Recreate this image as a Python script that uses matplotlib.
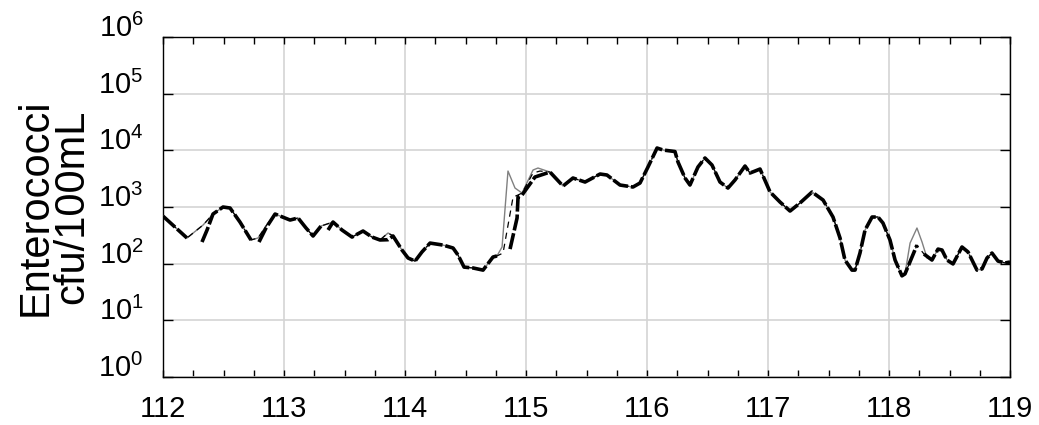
import numpy as np
import matplotlib
matplotlib.use("Agg")
import matplotlib.pyplot as plt
from matplotlib.ticker import LogLocator, MultipleLocator, NullFormatter

# observed series (thin gray), day of year vs cfu/100mL
obs_x = [112.000, 112.198, 112.331, 112.413, 112.496, 112.554, 112.636, 112.727,
         112.785, 112.851, 112.926, 113.050, 113.116, 113.182, 113.240, 113.306,
         113.405, 113.479, 113.562, 113.653, 113.727, 113.793, 113.860, 113.901,
         113.975, 114.025, 114.083, 114.140, 114.207, 114.314, 114.397, 114.438,
         114.488, 114.562, 114.645, 114.727, 114.760, 114.802, 114.851, 114.909,
         114.967, 115.058, 115.099, 115.198, 115.306, 115.388, 115.488, 115.612,
         115.669, 115.777, 115.884, 115.942, 116.008, 116.083, 116.132, 116.231,
         116.256, 116.314, 116.355, 116.421, 116.479, 116.537, 116.603, 116.669,
         116.727, 116.810, 116.851, 116.893, 116.934, 117.017, 117.099, 117.182,
         117.264, 117.364, 117.455, 117.537, 117.595, 117.636, 117.694, 117.719,
         117.760, 117.802, 117.860, 117.909, 117.950, 118.008, 118.050, 118.107,
         118.132, 118.174, 118.231, 118.273, 118.314, 118.355, 118.405, 118.438,
         118.479, 118.529, 118.603, 118.653, 118.727, 118.769, 118.810, 118.851,
         118.901, 118.959, 119.000]
obs_y = [690, 284, 481, 752, 1000, 960, 543, 262,
         284, 462, 752, 589, 640, 426, 308, 462,
         543, 393, 295, 377, 295, 262, 348, 308,
         174, 126, 111, 161, 231, 213, 189, 142,
         87, 84, 77, 131, 137, 197, 4315, 2163,
         1766, 4498, 4877, 4143, 2345, 3250, 2760, 3822,
         3670, 2443, 2254, 2650, 5080, 10990, 10140, 9530,
         6220, 3250, 2443, 5080, 7325, 5510, 2760, 2163,
         2995, 5290, 3980, 4315, 4680, 1840, 1225, 849,
         1176, 1840, 1328, 666, 284, 116, 77, 77,
         154, 393, 666, 666, 522, 262, 116, 61,
         66, 231, 426, 241, 126, 116, 181, 174,
         116, 99, 197, 161, 77, 81, 126, 154,
         111, 103, 107]

# thin dashed model: same as observed except around the jump at 114.85
dash_jump_x = [114.810, 114.893, 114.934]
dash_jump_y = [154, 1500, 1630]
dash_peak_x = [115.058, 115.116]
dash_peak_y = [3981, 4315]
dash_late_x = [118.231, 118.289]
dash_late_y = [213, 148]

# thick dashed model: restarts (nan = break) where it departs from observed
thick_a_x = [112.322, 112.364]
thick_a_y = [241, 393]
thick_b_x = [112.793, 112.851]
thick_b_y = [241, 426]
thick_c_x = [113.364]
thick_c_y = [393]
thick_d_x = [113.860]
thick_d_y = [265]
thick_e_x = [114.868, 114.926, 114.934, 114.967, 115.074]
thick_e_y = [181, 640, 1500, 1628, 3383]
thick_f_x = [118.231, np.nan, 118.289]
thick_f_y = [213, np.nan, 148]

nan = [np.nan]

dash_x = (obs_x[:37] + dash_jump_x + obs_x[40:41] + dash_peak_x
          + obs_x[43:89] + dash_late_x + obs_x[93:])
dash_y = (obs_y[:37] + dash_jump_y + obs_y[40:41] + dash_peak_y
          + obs_y[43:89] + dash_late_y + obs_y[93:])

thick_x = (obs_x[0:2] + nan + thick_a_x + obs_x[3:8] + nan + thick_b_x
           + obs_x[10:16] + nan + thick_c_x + obs_x[16:22] + thick_d_x
           + obs_x[23:37] + nan + thick_e_x + obs_x[43:89] + thick_f_x
           + obs_x[93:])
thick_y = (obs_y[0:2] + nan + thick_a_y + obs_y[3:8] + nan + thick_b_y
           + obs_y[10:16] + nan + thick_c_y + obs_y[16:22] + thick_d_y
           + obs_y[23:37] + nan + thick_e_y + obs_y[43:89] + thick_f_y
           + obs_y[93:])

xticks = [112, 113, 114, 115, 116, 117, 118, 119]
yticks = [1e0, 1e1, 1e2, 1e3, 1e4, 1e5, 1e6]
ytick_labels = [r'$10^{%d}$' % i for i in range(7)]


def main():
    plt.rcParams['font.family'] = ['Liberation Sans', 'DejaVu Sans']
    plt.rcParams['mathtext.fontset'] = 'custom'
    plt.rcParams['mathtext.rm'] = 'Liberation Sans'
    plt.rcParams['mathtext.it'] = 'Liberation Sans'
    plt.rcParams['mathtext.default'] = 'regular'

    fig = plt.figure(figsize=(10.39, 4.25), dpi=100)
    ax = fig.add_axes([0.1569, 0.1129, 0.8152, 0.8])

    ax.plot(obs_x, obs_y, color='#808080', lw=1.0, zorder=3)
    ax.plot(dash_x, dash_y, color='black', lw=0.9, ls=(0, (5, 4)), zorder=4)
    ax.plot(thick_x, thick_y, color='black', lw=2.6, ls=(0, (4.5, 0.8)),
            zorder=5, solid_capstyle='butt')

    ax.set_yscale('log')
    ax.set_xlim(112, 119)
    ax.set_ylim(1, 1e6)

    ax.set_xticks(xticks)
    ax.set_xticklabels([str(t) for t in xticks])
    ax.xaxis.set_minor_locator(MultipleLocator(0.25))
    ax.set_yticks(yticks)
    ax.set_yticklabels(ytick_labels)
    ax.yaxis.set_minor_locator(LogLocator(base=10, subs=np.arange(2, 10)))
    ax.yaxis.set_minor_formatter(NullFormatter())

    ax.grid(True, which='major', color='#d4d4d4', lw=1.2, zorder=0)
    ax.tick_params(which='both', direction='in', top=True, right=True,
                   width=1.0, color='black')
    ax.tick_params(axis='x', which='major', length=5, pad=13, labelsize=21)
    ax.tick_params(axis='x', which='minor', length=5)
    ax.tick_params(axis='y', which='major', length=7, pad=14, labelsize=21)
    ax.tick_params(axis='y', which='minor', length=5)
    for lbl in ax.get_yticklabels():
        lbl.set_verticalalignment('baseline')
    for s in ax.spines.values():
        s.set_linewidth(1.0)

    ax.set_ylabel('Enterococci\ncfu/100mL', fontsize=30, linespacing=0.9,
                  labelpad=4)

    fig.savefig('out.png', dpi=100)


if __name__ == "__main__":
    main()
